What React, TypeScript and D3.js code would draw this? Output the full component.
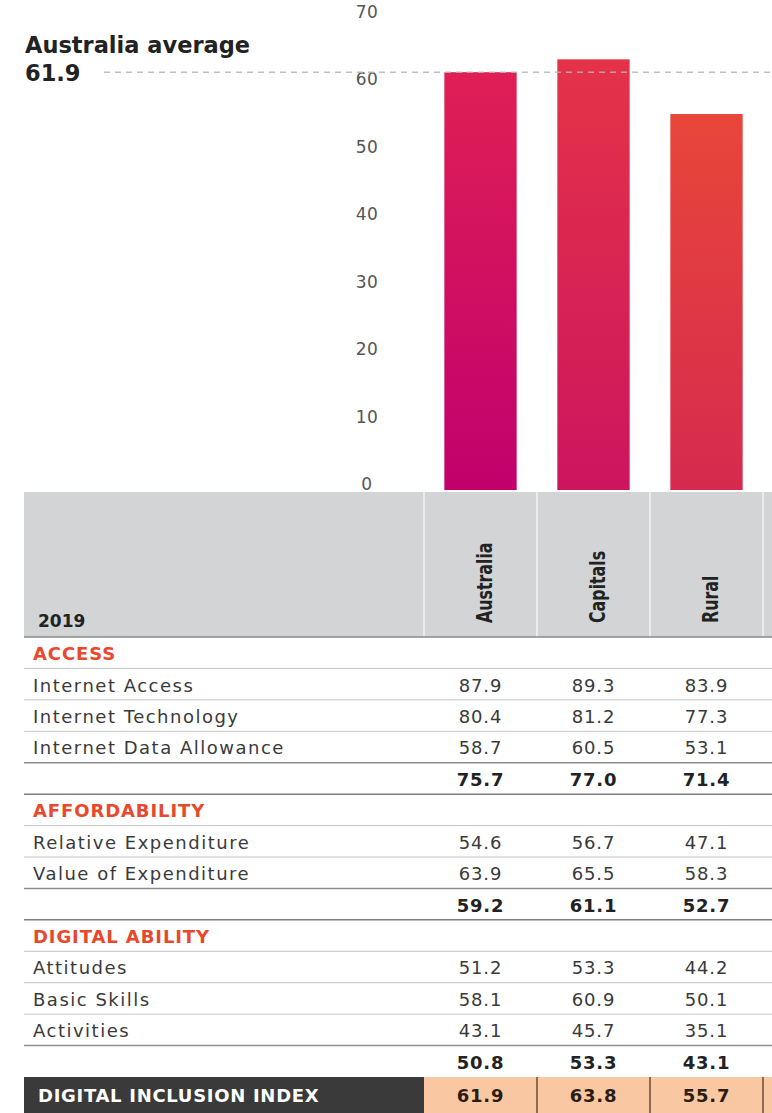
import React from "react";
import * as d3 from "d3";

const regions = ["Australia", "Capitals", "Rural"];
const indexValues = [61.9, 63.8, 55.7];
const australiaAverage = 61.9;
const yTicks = [0, 10, 20, 30, 40, 50, 60, 70];
const yearLabel = "2019";

const accessLabels = ["Internet Access", "Internet Technology", "Internet Data Allowance"];
const accessValues = [
  [87.9, 89.3, 83.9],
  [80.4, 81.2, 77.3],
  [58.7, 60.5, 53.1],
];
const accessTotals = [75.7, 77.0, 71.4];

const affordabilityLabels = ["Relative Expenditure", "Value of Expenditure"];
const affordabilityValues = [
  [54.6, 56.7, 47.1],
  [63.9, 65.5, 58.3],
];
const affordabilityTotals = [59.2, 61.1, 52.7];

const abilityLabels = ["Attitudes", "Basic Skills", "Activities"];
const abilityValues = [
  [51.2, 53.3, 44.2],
  [58.1, 60.9, 50.1],
  [43.1, 45.7, 35.1],
];
const abilityTotals = [50.8, 53.3, 43.1];

const sections = [
  { title: "ACCESS", labels: accessLabels, values: accessValues, totals: accessTotals },
  { title: "AFFORDABILITY", labels: affordabilityLabels, values: affordabilityValues, totals: affordabilityTotals },
  { title: "DIGITAL ABILITY", labels: abilityLabels, values: abilityValues, totals: abilityTotals },
];
const indexLabel = "DIGITAL INCLUSION INDEX";

const W = 772;
const H = 1113;
const FONT = "'DejaVu Sans', Verdana, sans-serif";

type Row =
  | { kind: "section"; label: string }
  | { kind: "item"; label: string; values: number[]; last: boolean }
  | { kind: "total"; values: number[] };

export default function App() {
  const y = d3.scaleLinear().domain([0, 70]).range([490, 17.5]);
  const bars = d3
    .scaleBand<string>()
    .domain(regions)
    .range([424, 424 + 113 * 3])
    .paddingInner(0.36)
    .paddingOuter(0.18);
  const cols = d3.scaleBand<string>().domain(regions).range([424, 763]);
  const fmt = d3.format(".1f");

  const topCol = d3.interpolateRgb("#df1f55", "#e9463a");
  const botCol = d3.interpolateRgb("#c2006d", "#d62a4e");

  const rows: Row[] = [];
  sections.forEach((s) => {
    rows.push({ kind: "section", label: s.title });
    s.labels.forEach((l, i) =>
      rows.push({ kind: "item", label: l, values: s.values[i], last: i === s.labels.length - 1 })
    );
    rows.push({ kind: "total", values: s.totals });
  });

  const tableTop = 637;
  const rowH = 31.43;
  const indexTop = tableTop + rows.length * rowH;
  const leftX = 24;
  const valueX = (r: string) => (cols(r) as number) + cols.bandwidth() / 2;

  return (
    <svg
      width={W}
      height={H}
      style={{ position: "absolute", left: 0, top: 0, background: "#fff" }}
      fontFamily={FONT}
    >
      <defs>
        {regions.map((r, i) => (
          <linearGradient key={r} id={`g${i}`} x1="0" y1="1" x2="0" y2="0">
            <stop offset="0" stopColor={botCol(i / 2)} />
            <stop offset="1" stopColor={topCol(i / 2)} />
          </linearGradient>
        ))}
      </defs>

      {/* title */}
      <text x={25} y={53} fontSize={22.5} fontWeight={700} fill="#222">
        Australia average
      </text>
      <text x={25} y={81} fontSize={22.5} fontWeight={700} fill="#222">
        {fmt(australiaAverage)}
      </text>

      {/* y ticks */}
      {yTicks.map((t) => (
        <text
          key={t}
          x={367}
          y={y(t)}
          textAnchor="middle"
          fontSize={17}
          fill="#555"
          letterSpacing={0.5}
        >
          {t}
        </text>
      ))}

      {/* bars */}
      {regions.map((r, i) => (
        <rect
          key={r}
          x={bars(r)}
          y={y(indexValues[i])}
          width={bars.bandwidth()}
          height={y(0) - y(indexValues[i])}
          fill={`url(#g${i})`}
        />
      ))}

      {/* average line */}
      <line
        x1={104}
        x2={W}
        y1={y(australiaAverage)}
        y2={y(australiaAverage)}
        stroke="#b5b5b5"
        strokeWidth={1.5}
        strokeDasharray="6 5"
        opacity={0.85}
      />

      {/* header */}
      <rect x={leftX} y={492} width={W - leftX} height={tableTop - 492} fill="#d3d4d6" />
      {[...regions.map((r) => cols(r) as number), 763].map((x, i) => (
        <line key={i} x1={x} x2={x} y1={492} y2={tableTop} stroke="#ececec" strokeWidth={2} />
      ))}
      <text x={38} y={627} fontSize={17} fontWeight={700} fill="#222">
        {yearLabel}
      </text>
      {regions.map((r) => {
        const cx = (cols(r) as number) + cols.bandwidth() / 2 + 11;
        return (
          <text
            key={r}
            transform={`translate(${cx},${623}) rotate(-90) scale(0.72,1)`}
            fontSize={22}
            fontWeight={700}
            fill="#222"
          >
            {r}
          </text>
        );
      })}
      <line x1={leftX} x2={W} y1={tableTop} y2={tableTop} stroke="#8a8a8a" strokeWidth={1.5} />

      {/* rows */}
      {rows.map((row, i) => {
        const top = tableTop + i * rowH;
        const cy = top + rowH / 2 + 1;
        const bottom = top + rowH;
        let lineColor = "#c4c4c4";
        let lineW = 1;
        if (row.kind === "item" && row.last) {
          lineColor = "#8e8e8e";
          lineW = 1.5;
        }
        if (row.kind === "total") {
          lineColor = "#7e7e7e";
          lineW = 1.5;
        }
        return (
          <g key={i}>
            {row.kind === "section" && (
              <text
                x={33}
                y={cy}
                dy="0.36em"
                fontSize={18}
                fontWeight={700}
                fill="#e8482c"
                letterSpacing={0.9}
              >
                {row.label}
              </text>
            )}
            {row.kind === "item" && (
              <text x={33} y={cy} dy="0.36em" fontSize={18} fill="#3a3a3a" letterSpacing={1.5}>
                {row.label}
              </text>
            )}
            {row.kind !== "section" &&
              regions.map((r, j) => (
                <text
                  key={r}
                  x={valueX(r)}
                  y={cy}
                  dy="0.36em"
                  textAnchor="middle"
                  fontSize={18}
                  fontWeight={row.kind === "total" ? 700 : 400}
                  fill={row.kind === "total" ? "#222" : "#3a3a3a"}
                  letterSpacing={0.8}
                >
                  {fmt(row.values[j])}
                </text>
              ))}
            {i < rows.length - 1 && (
              <line x1={leftX} x2={W} y1={bottom} y2={bottom} stroke={lineColor} strokeWidth={lineW} />
            )}
          </g>
        );
      })}

      {/* index row */}
      <rect x={leftX} y={indexTop} width={424 - leftX} height={H - indexTop} fill="#3a3a3a" />
      <rect x={424} y={indexTop} width={W - 424} height={H - indexTop} fill="#f9c8a2" />
      {[...regions.slice(1).map((r) => cols(r) as number), 763].map((x, i) => (
        <line key={i} x1={x} x2={x} y1={indexTop} y2={H} stroke="#6e4a38" strokeWidth={1.5} />
      ))}
      <text
        x={38}
        y={indexTop + (H - indexTop) / 2 + 1}
        dy="0.36em"
        fontSize={18}
        fontWeight={700}
        fill="#fff"
        letterSpacing={0.7}
      >
        {indexLabel}
      </text>
      {regions.map((r, j) => (
        <text
          key={r}
          x={valueX(r)}
          y={indexTop + (H - indexTop) / 2 + 1}
          dy="0.36em"
          textAnchor="middle"
          fontSize={18}
          fontWeight={700}
          fill="#2a1d14"
          letterSpacing={0.8}
        >
          {fmt(indexValues[j])}
        </text>
      ))}
    </svg>
  );
}
